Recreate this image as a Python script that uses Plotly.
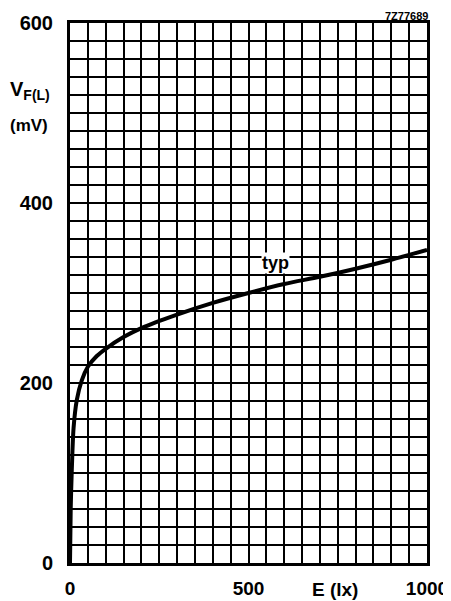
import plotly.graph_objects as go

# Data
illuminance_lx = [0, 2, 5, 10, 19, 33, 50, 75, 100, 150, 200, 300, 400, 500, 600, 700, 800, 900, 1000]
vf_mV = [0, 60, 103, 150, 181, 203, 218, 230, 238, 251, 261, 276, 289, 300, 310, 318, 327, 337, 348]

x_grid = list(range(0, 1001, 50))
x_labels = {0: "0", 500: "500", 1000: "1000"}
y_grid = list(range(0, 601, 20))
y_labels = {0: "0", 200: "200", 400: "400", 600: "600"}

FONT = "Liberation Sans, Arial, sans-serif"

# The page body adds an 8px offset; size the figure to fit the 451x601 window.
OFF = 8
W, H = 451 - OFF, 601 - OFF
L, T = 70 - OFF, 23 - OFF
R = W - (427 - OFF)
B = H - (563 - OFF)

fig = go.Figure()
fig.add_trace(go.Scatter(
    x=illuminance_lx, y=vf_mV, mode="lines",
    line=dict(color="black", width=4, shape="spline", smoothing=0.8),
    hoverinfo="skip", showlegend=False,
))

fig.update_layout(
    width=W, height=H,
    margin=dict(l=L, r=R, t=T, b=B, autoexpand=False),
    paper_bgcolor="white", plot_bgcolor="white",
    font=dict(family=FONT, color="black"),
    xaxis=dict(
        range=[0, 1000], tickvals=x_grid,
        ticktext=[f"<b>{x_labels[v]}</b>" if v in x_labels else "" for v in x_grid],
        showgrid=True, gridcolor="black", gridwidth=2,
        zeroline=False, showline=True, linecolor="black", linewidth=3, mirror=True,
        ticks="outside", ticklen=6, tickcolor="rgba(0,0,0,0)",
        tickfont=dict(size=19, family=FONT), automargin=False,
        fixedrange=True,
    ),
    yaxis=dict(
        range=[0, 600], tickvals=y_grid,
        ticktext=[f"<b>{y_labels[v]}</b>" if v in y_labels else "" for v in y_grid],
        showgrid=True, gridcolor="black", gridwidth=2,
        zeroline=False, showline=True, linecolor="black", linewidth=3, mirror=True,
        ticks="outside", ticklen=10, tickcolor="rgba(0,0,0,0)",
        tickfont=dict(size=20, family=FONT), automargin=False,
        fixedrange=True,
    ),
)

fig.add_annotation(x=577, y=333, xref="x", yref="y", text="<b>typ</b>", showarrow=False,
                   font=dict(size=18, family=FONT), bgcolor="white", borderpad=0)

# Annotations positioned in window pixels, converted to paper coordinates
pw, ph = W - L - R, H - T - B
def px2paper(px, py):
    px, py = px - OFF, py - OFF
    return (px - L) / pw, (H - B - py) / ph

pixel_texts = [
    (335, 589, "center", "middle", "<b>E (lx)</b>", 19),
    (9, 91, "left", "middle", "<b>V<sub>F(L)</sub></b>", 20),
    (9, 125, "left", "middle", "<b>(mV)</b>", 17),
    (429, 23, "right", "bottom", "<b>7Z77689</b>", 11),
]
for px, py, xanchor, yanchor, txt, size in pixel_texts:
    ax, ay = px2paper(px, py)
    fig.add_annotation(x=ax, y=ay, xref="paper", yref="paper", xanchor=xanchor, yanchor=yanchor,
                       text=txt, showarrow=False, borderpad=0, font=dict(size=size, family=FONT))

fig.write_html("out.html")
